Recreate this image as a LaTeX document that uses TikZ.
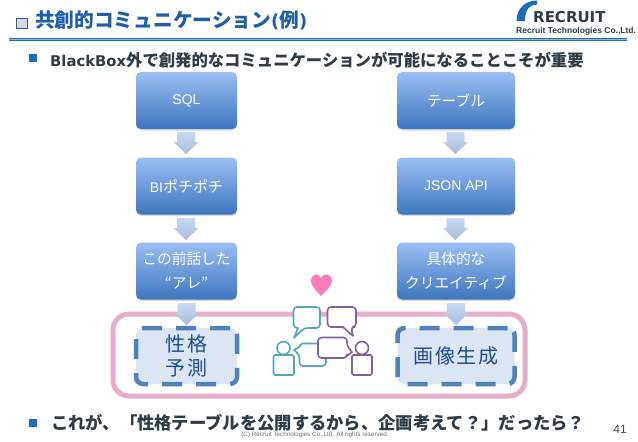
\documentclass[tikz,border=0pt]{standalone}
\usepackage{fontspec}
\setmainfont{Liberation Sans}
\newfontfamily\jp{Noto Sans CJK JP}
\newfontfamily\dv{DejaVu Sans}
\newfontfamily\ls{Liberation Sans}
\usetikzlibrary{shadows}
\definecolor{titleblue}{HTML}{1F5FA8}
\definecolor{barblue}{HTML}{1C6DB8}
\definecolor{bodytext}{HTML}{2F3B45}
\definecolor{boxtop}{HTML}{9CBEF5}
\definecolor{boxbot}{HTML}{3D76BE}
\definecolor{arrowtop}{HTML}{C6D8F2}
\definecolor{arrowbot}{HTML}{A9BEDD}
\definecolor{pinkframe}{HTML}{E5AFCB}
\definecolor{dashblue}{HTML}{4F81BD}
\definecolor{dashfill}{HTML}{DCE6F2}
\definecolor{darkblue}{HTML}{1F4E8C}
\definecolor{teal}{HTML}{4FA9BC}
\definecolor{purp}{HTML}{80609F}
\definecolor{heartpink}{HTML}{FB7DB8}
\tikzset{
 flowbox/.style={rounded corners=5pt,top color=boxtop,bottom color=boxbot,draw=none,
   text=white,align=center,font=\jp\fontsize{14.7}{24}\selectfont,
   drop shadow={shadow xshift=0pt,shadow yshift=-1.5pt,opacity=.3}},
 downarrow/.style={top color=arrowtop,bottom color=arrowbot,draw=none},
 dashbox/.style={rounded corners=7pt,draw=dashblue,fill=dashfill,line width=4.5pt,
   dash pattern=on 20pt off 14pt,text=darkblue,align=center,font=\jp\fontsize{20}{24.5}\selectfont},
 frame/.style={draw=pinkframe,line width=5pt,rounded corners=16pt},
 bubble/.style={line width=1.6pt,fill=white,line join=round},
 person/.style={line width=1.6pt,fill=white,rounded corners=1.5pt},
 bodyline/.style={text=bodytext,anchor=west,inner sep=0pt},
}
\newcommand{\downarr}[2]{\path[downarrow] (#1-9,#2) -- (#1+9,#2) -- (#1+9,#2+10) -- (#1+12.5,#2+10) -- (#1,#2+22) -- (#1-12.5,#2+10) -- (#1-9,#2+10) -- cycle;}
\begin{document}
\begin{tikzpicture}[x=1pt,y=-1pt]
\useasboundingbox (0,0) rectangle (638,442);
\fill[white] (0,0) rectangle (638,442);
% title
\node[draw=titleblue,fill=gray!30,line width=.7pt,minimum size=10.5pt,inner sep=0pt] (titlemark) at (22,23.5) {};
\node[anchor=west,inner sep=0pt,text=titleblue] (title) at (35,20) {\jp\bfseries\fontsize{19.7}{24}\selectfont 共創的コミュニケーション\dv\fontsize{18}{24}\selectfont(\jp\fontsize{19.7}{24}\selectfont 例\dv\fontsize{18}{24}\selectfont)};
\fill[barblue] (9,38) rectangle (627,41);
\fill[white,opacity=.5] (9,39.2) rectangle (627,39.8);
% logo
\path[fill=barblue] (516.5,21) .. controls (516.5,8) and (526,0.5) .. (537,0.5) -- (537,4.5) .. controls (530,4.5) and (525,9) .. (525,21) -- cycle;
\node[anchor=west,inner sep=0,text=bodytext] (logoa) at (533,17.5) {\dv\bfseries\fontsize{15}{15}\selectfont RECRUIT};
\node[anchor=west,inner sep=0,text=bodytext] (logob) at (516,31.5) {\ls\bfseries\fontsize{8.5}{10}\selectfont Recruit Technologies Co.,Ltd.};
% bullets
\fill[barblue] (29,54) rectangle (37,62);
\node[bodyline] (topline) at (50,60) {\dv\bfseries\fontsize{14.8}{18}\selectfont BlackBox\jp\fontsize{16.35}{18}\selectfont 外で創発的なコミュニケーションが可能になることこそが重要};
\fill[barblue] (29,419) rectangle (37,427);
\node[bodyline] (botline) at (51,423) {\jp\bfseries\fontsize{17.3}{18}\selectfont これが、「性格テーブルを公開するから、企画考えて？」だったら？};
% frame
\draw[frame] (113,314) rectangle (525,396) ;
% arrows
\downarr{186}{132}
\downarr{186}{218}
\downarr{455.5}{132}
\downarr{455.5}{218}
% boxes
\node[flowbox,minimum width=101pt,minimum height=57pt] (a1) at (186.5,100.5) {\ls\fontsize{14}{18}\selectfont SQL};
\node[flowbox,minimum width=101pt,minimum height=57pt] (a2) at (186.5,186) {\ls\fontsize{14}{18}\selectfont BI\jp\fontsize{15}{18}\selectfont ポチポチ};
\node[flowbox,minimum width=101pt,minimum height=57pt] (a3) at (186.5,271) {この前話した\\“アレ”};
\node[flowbox,minimum width=118pt,minimum height=57pt] (b1) at (456,100.5) {テーブル};
\node[flowbox,minimum width=118pt,minimum height=57pt] (b2) at (456,186) {\ls\fontsize{14}{18}\selectfont JSON API};
\node[flowbox,minimum width=118pt,minimum height=57pt] (b3) at (456,271) {具体的な\\クリエイティブ};
% arrows into dashed boxes
\downarr{186.5}{303}
\downarr{456}{303}
% dashed boxes
\node[dashbox,minimum width=101pt,minimum height=56pt] (pred) at (186.5,356) {\raisebox{1pt}{性\kern1.5pt 格}\\\raisebox{1pt}{予\kern1.5pt 測}};
\node[dashbox,minimum width=117pt,minimum height=56pt] (gen) at (456,356) {画\kern1.5pt 像\kern1.5pt 生\kern1.5pt 成};
% heart
\fill[heartpink] (321,296) .. controls (315,290) and (311,285) .. (311,281) .. controls (311,273.5) and (319,272) .. (321,278) .. controls (323,272) and (332,273.5) .. (332,281) .. controls (332,285) and (327,290) .. (321,296) -- cycle;
% bubbles
\draw[bubble,draw=teal] (306,307) [rounded corners=3.5pt] -- (320,307) -- (320,328) -- (304,328) [sharp corners] -- (294,338) -- (298,328) [rounded corners=3.5pt] -- (293.5,328) -- (293.5,307) -- cycle;
\draw[bubble,draw=purp] (340,307) [rounded corners=3.5pt] -- (356,307) -- (356,327) -- (351,327) [sharp corners] -- (353,336) -- (343,327) [rounded corners=3.5pt] -- (327.5,327) -- (327.5,307) -- cycle;
\draw[bubble,draw=teal] (312,343.5) [rounded corners=3.5pt] -- (326,343.5) -- (326,366) -- (299.5,366) -- (299.5,355) [sharp corners] -- (294,350) -- (299.5,347) [rounded corners=3.5pt] -- (299.5,343.5) -- cycle;
\draw[bubble,draw=purp] (332,337.5) [rounded corners=3.5pt] -- (347,337.5) -- (347,346) [sharp corners] -- (352,352) -- (347,356) [rounded corners=3.5pt] -- (347,358) -- (318,358) -- (318,337.5) -- cycle;
% people
\draw[person,draw=teal] (273.5,355) rectangle (294,375);
\draw[line width=1.6pt,draw=teal,fill=white] (283.5,348) circle (6.5pt);
\draw[person,draw=purp] (352,355) rectangle (372,375);
\draw[line width=1.6pt,draw=purp,fill=white] (362,348) circle (6.5pt);
% footer
\node[text=gray!85!black,inner sep=0pt] (copy) at (315,435) {\ls\fontsize{6.3}{8}\selectfont (C) Recruit Technologies Co.,Ltd. All rights reserved.};
\node[text=black!70,inner sep=0pt] (pageno) at (620,429) {\ls\fontsize{12}{12}\selectfont 41};
\end{tikzpicture}
\end{document}
